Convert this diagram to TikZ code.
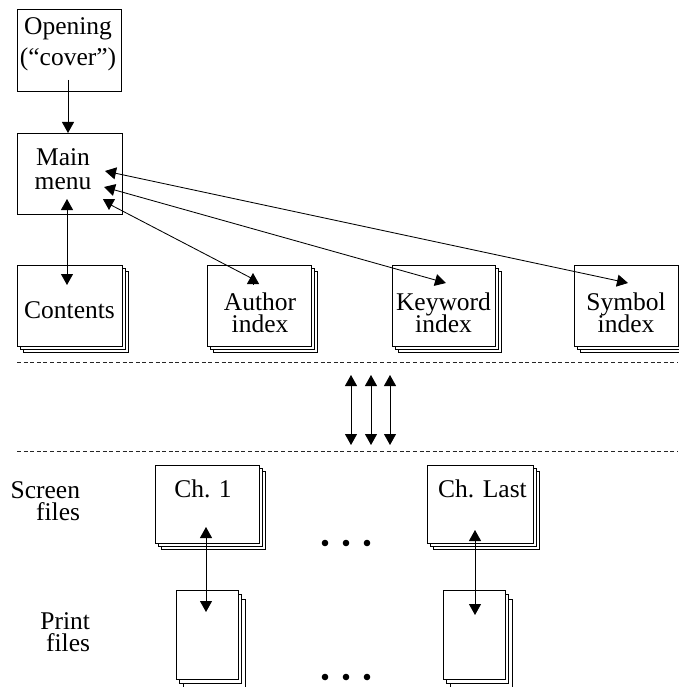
\documentclass[tikz,border=0pt]{standalone}
\usepackage{fontspec}
\setmainfont{Liberation Serif}
\usetikzlibrary{arrows.meta}
\newcommand{\twoln}[3]{\vtop{\baselineskip=#1\lineskiplimit=-100pt\halign{\hfil##\hfil\cr #2\cr #3\cr}}}
\newcommand{\twolnr}[3]{\vtop{\baselineskip=#1\lineskiplimit=-100pt\halign{\hfil##\cr #2\cr #3\cr}}}
\newcommand{\stackbox}[7]{%
  \draw[sheet] ({#2+2*#6},{#3+2*#7}) rectangle ({#4+2*#6},{#5+2*#7});
  \draw[sheet] ({#2+#6},{#3+#7}) rectangle ({#4+#6},{#5+#7});
  \node[sheet, minimum width={(#4-#2)*1pt}, minimum height={(#5-#3)*1pt}] (#1) at ({(#2+#4)/2},{(#3+#5)/2}) {};}
\begin{document}
\begin{tikzpicture}[x=1pt,y=-1pt,
  sheet/.style={draw=black, fill=white, line width=0.85pt, inner sep=0pt, outer sep=0pt},
  txt/.style={font=\fontsize{25.5}{25.5}\selectfont, inner sep=0pt, outer sep=0pt, anchor=base},
  tipshape/.tip={Triangle[width=12pt,length=11pt]},
  link/.style={line width=0.85pt, tipshape-tipshape},
  onearrow/.style={line width=0.85pt, -tipshape},
  plainline/.style={line width=0.85pt},
  divider/.style={line width=0.7pt, dash pattern=on 4pt off 2.6pt, draw=black!85}]
\useasboundingbox (0,0) rectangle (678,687);

% single boxes
\node[sheet, minimum width=104pt, minimum height=82pt] (open) at (69,50) {};
\node[txt] (opentext) at (68,35) {\twoln{31pt}{Opening}{(“cover”)}};
\node[sheet, minimum width=105pt, minimum height=81pt] (menu) at (69.5,173.5) {};
\node[txt] (menutext) at (63,166) {\twoln{24pt}{Main}{menu}};

% stacked boxes
\stackbox{cont}{17}{265}{122}{346}{3}{3}
\node[txt] (conttext) at (69.5,318) {Contents};
\stackbox{auth}{207}{265}{311}{346}{3}{3}
\node[txt] (authtext) at (260,310.5) {\twoln{22pt}{Author}{index}};
\stackbox{keyw}{392}{265}{495}{346}{3}{3}
\node[txt] (keywtext) at (443.5,310.5) {\twoln{22pt}{Keyword}{index}};
\stackbox{symb}{574}{265}{678}{346}{3}{3}
\node[txt] (symbtext) at (626,310.5) {\twoln{22pt}{Symbol}{index}};

\stackbox{chone}{155}{465}{259}{543}{3.3}{3}
\node[txt] (chonetext) at (203,497) {Ch. 1};
\stackbox{chlast}{427}{465}{533}{543}{3}{3}
\node[txt] (chlasttext) at (482.5,497) {Ch. Last};
\stackbox{prone}{176}{590}{238}{679}{3.5}{4.5}
\stackbox{prlast}{443}{590}{505}{679}{3.5}{4.5}

% row labels
\node[txt, anchor=base east] (screenlab) at (80,498) {\twolnr{22pt}{Screen}{files}};
\node[txt, anchor=base east] (printlab) at (90,629) {\twolnr{22pt}{Print}{files}};

% dividers
\draw[divider] (17,362) -- (678,362);
\draw[divider] (17,451) -- (678,451);

% dots
\foreach \dx in {325,346,367} {
  \fill (\dx,543) circle[radius=3.3pt];
  \fill (\dx,677) circle[radius=3.3pt];
}

% connectors
\coordinate (o1) at (68,80);
\coordinate (m1) at (68,133);
\draw[onearrow] (o1) -- (m1);

\coordinate (m2) at (67,199);
\coordinate (c1) at (67,285);
\draw[link] (m2) -- (c1);

\coordinate (m3) at (105,171);
\coordinate (s1) at (628,283);
\draw[link] (m3) -- (s1);

\coordinate (m4) at (104,187);
\coordinate (k1) at (446,283);
\draw[link] (m4) -- (k1);

\coordinate (m5) at (109,204);
\coordinate (a1) at (253,279);
\draw[plainline] (m5) -- (a1);
\coordinate (m5top) at (109,199);
\coordinate (m5tip) at (109,210);
\coordinate (a1bot) at (253,284);
\coordinate (a1tip) at (253,273);
\draw[onearrow] (m5top) -- (m5tip);
\draw[onearrow] (a1bot) -- (a1tip);

\foreach \ax/\nm in {351/p,371/q,390/r} {
  \coordinate (\nm up) at (\ax,375);
  \coordinate (\nm dn) at (\ax,445);
  \draw[link] (\nm up) -- (\nm dn);
}

\coordinate (ch1a) at (206,527);
\coordinate (pr1a) at (206,612);
\draw[link] (ch1a) -- (pr1a);
\coordinate (chla) at (475,530);
\coordinate (prla) at (475,615);
\draw[link] (chla) -- (prla);
\end{tikzpicture}
\end{document}
